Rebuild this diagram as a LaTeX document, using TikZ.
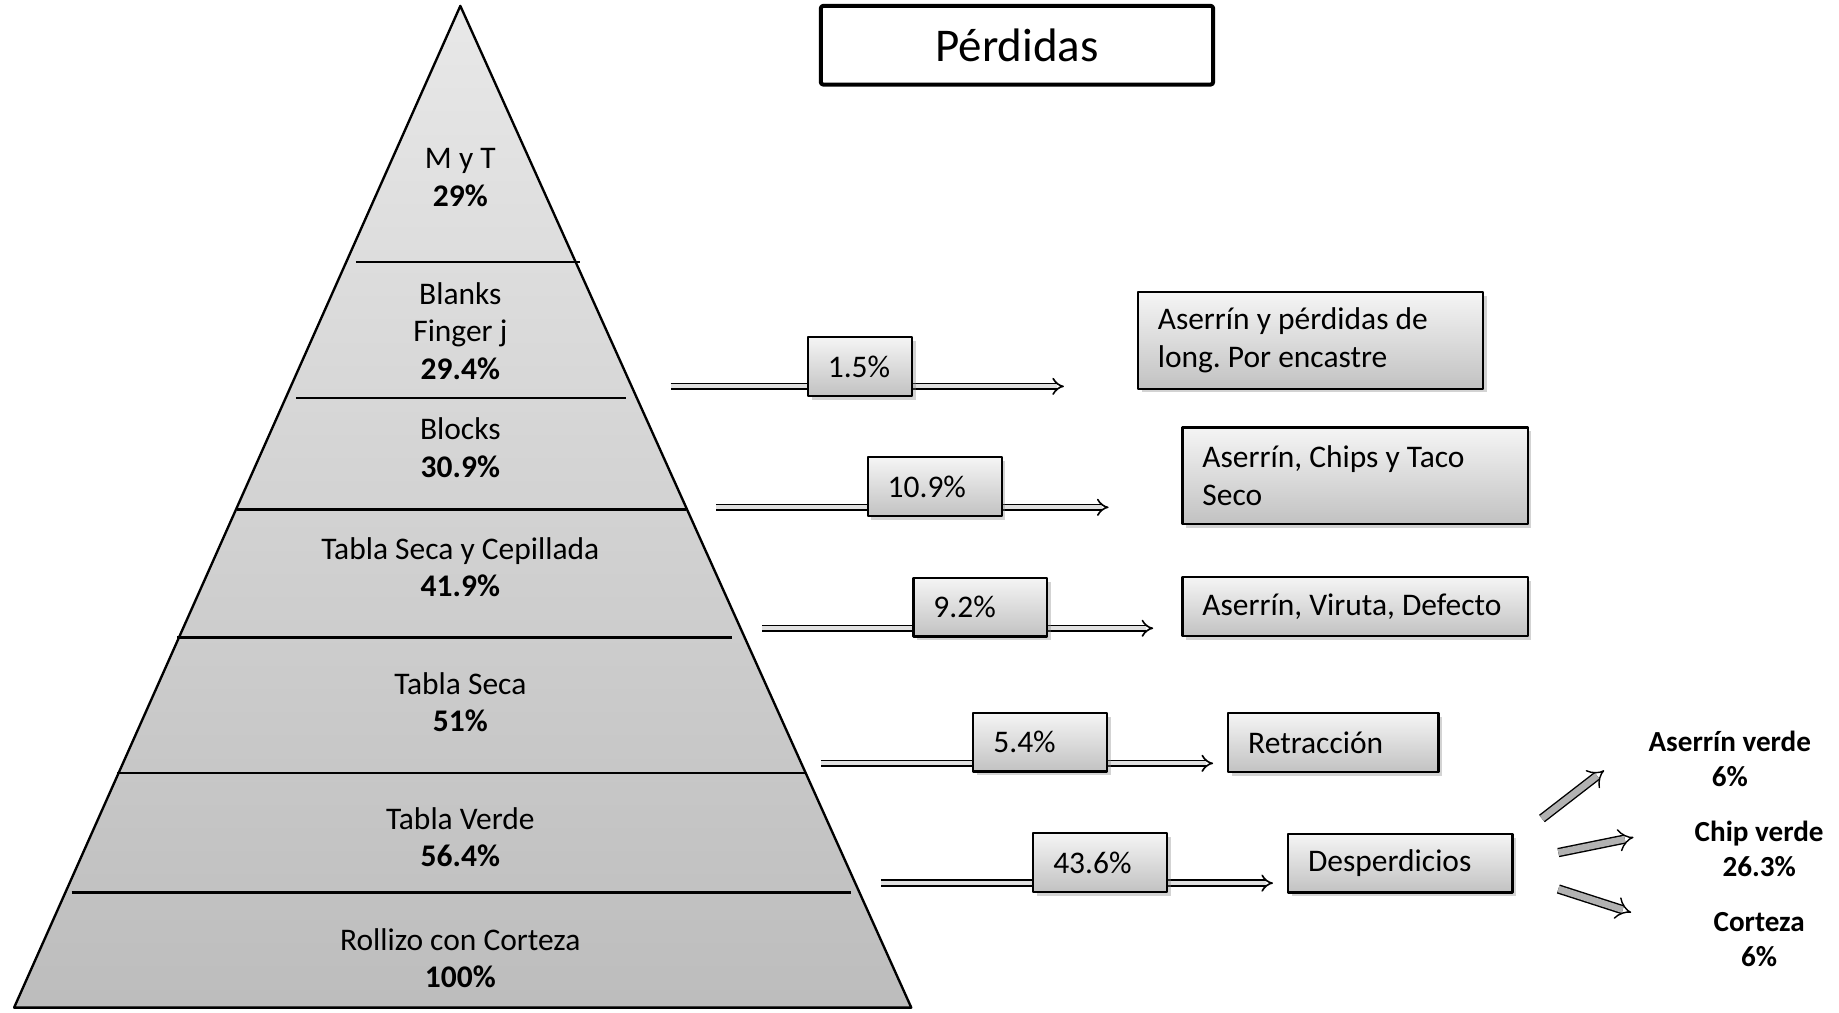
\documentclass[tikz,border=0pt]{standalone}
\usepackage{fontspec}
\setmainfont{Carlito}
\usetikzlibrary{arrows.meta,shadows}
\frenchspacing
\tikzset{
  box/.style={draw, line width=0.9pt, top color=white!96!black, bottom color=white!76!black,
    drop shadow={shadow xshift=1.6pt, shadow yshift=-1.6pt, opacity=0.35},
    align=flush left, inner xsep=8.5pt, inner ysep=2pt, anchor=west, minimum height=25pt},
  flow/.style={line width=0.7pt, double=white!88!black, double distance=1.8pt, -{Implies}},
  branch/.style={line width=0.6pt, double=white!70!black, double distance=2.8pt, -{Implies}},
  lvl/.style={line width=1pt},
  res/.style={font=\fontsize{12.4}{15}\selectfont\bfseries, align=center}
}
\begin{document}
\begin{tikzpicture}[x=0.5pt, y=-0.5pt, line join=round, font=\fontsize{13.4}{16}\selectfont]
	\useasboundingbox (0,0) rectangle (1566,862);
	%piramide
	\draw[lvl, top color=black!9, bottom color=black!26] (392,5) -- (776,858) -- (12,858) -- cycle;
	\draw[lvl] (303,223)--(494,223) (252,339)--(533,339) (202,434)--(584,434)
	(151,543)--(623,543) (100,658)--(686,658) (61,760)--(725,760);
	\node[align=center] (myt) at (392,151) {M y T\\\textbf{29\%}};
	\node[align=center] (blanks) at (392,282) {Blanks\\Finger j\\\textbf{29.4\%}};
	\node[align=center] (blocks) at (392,381) {Blocks\\\textbf{30.9\%}};
	\node[align=center] (tsc) at (392,483) {Tabla Seca y Cepillada\\\textbf{41.9\%}};
	\node[align=center] (ts) at (392,598) {Tabla Seca\\\textbf{51\%}};
	\node[align=center] (tv) at (392,713) {Tabla Verde\\\textbf{56.4\%}};
	\node[align=center] (rollizo) at (392,816) {Rollizo con Corteza\\\textbf{100\%}};
	\node[draw, line width=1.7pt, rounded corners=1pt, fill=white, minimum width=167pt, minimum height=33.5pt,
	font=\fontsize{20}{24}\selectfont] (perdidas) at (866,38.5) {Pérdidas};
	%flechas
	\coordinate (s1) at (571,329); \coordinate (e1) at (906,329);
	\coordinate (s2) at (610,432); \coordinate (e2) at (944,432);
	\coordinate (s3) at (649,535); \coordinate (e3) at (982,535);
	\coordinate (s4) at (699,650); \coordinate (e4) at (1033,650);
	\coordinate (s5) at (750,752); \coordinate (e5) at (1084,752);
	\foreach \i in {1,...,5} \draw[flow] (s\i) -- (e\i);
	\node[box, text width=27.5pt] (p1) at (687,312) {1.5\%};
	\node[box, text width=40pt] (p2) at (738,414.5) {10.9\%};
	\node[box, text width=40pt] (p3) at (777,517) {9.2\%};
	\node[box, text width=40pt] (p4) at (828,632) {5.4\%};
	\node[box, text width=40pt] (p5) at (879,734.5) {43.6\%};
	\node[box, text width=130pt, minimum height=41pt] (d1) at (968,290) {Aserrín y pérdidas de\\long. Por encastre};
	\node[box, text width=130pt, minimum height=41pt] (d2) at (1006,405) {Aserrín, Chips y Taco\\Seco};
	\node[box, text width=130pt] (d3) at (1006,516.5) {\mbox{Aserrín, Viruta, Defecto}};
	\node[box, text width=72.5pt] (d4) at (1045,632.5) {Retracción};
	\node[box, text width=78.5pt] (d5) at (1096,735) {Desperdicios};
	%desperdicios
	\coordinate (b1) at (1313,697); \coordinate (c1) at (1366,656);
	\coordinate (b2) at (1327,726); \coordinate (c2) at (1391,713);
	\coordinate (b3) at (1327,757); \coordinate (c3) at (1389,777);
	\foreach \i in {1,2,3} \draw[branch] (b\i) -- (c\i);
	\node[res] (av) at (1473,646) {Aserrín verde\\6\%};
	\node[res] (cv) at (1498,723) {Chip verde\\26.3\%};
	\node[res] (co) at (1498,800) {Corteza\\6\%};
\end{tikzpicture}
\end{document}
